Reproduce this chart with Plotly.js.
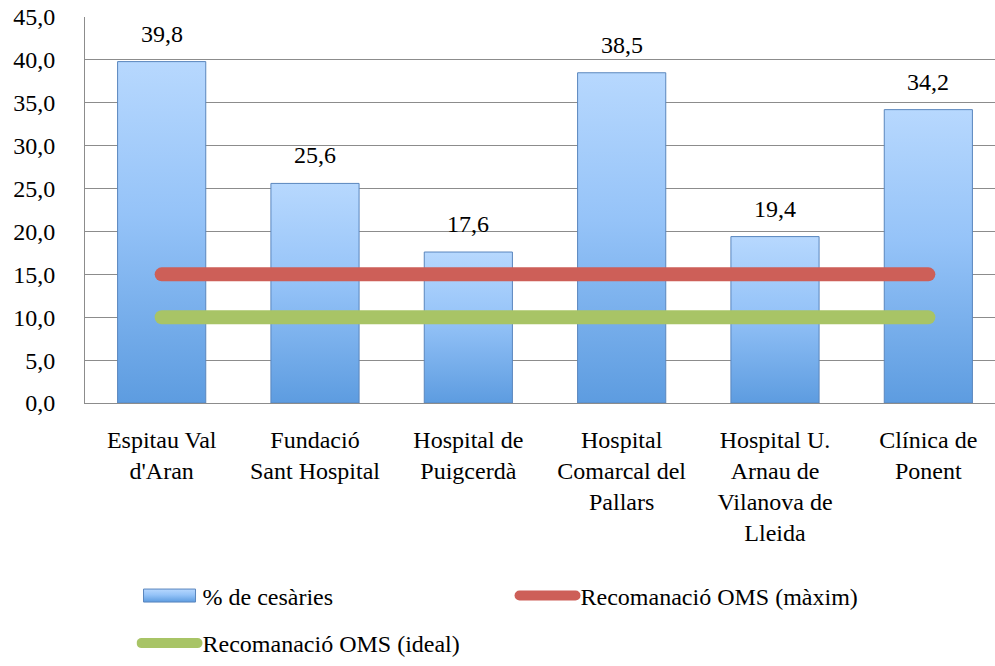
<!DOCTYPE html>
<html>
<head>
<meta charset="utf-8">
<script src="https://cdn.plot.ly/plotly-3.0.1.min.js"></script>
<style>
html, body { margin: 0; padding: 0; overflow: hidden; background: #fff; }
#chart { width: 1005px; height: 666px; }
path.js-line { stroke-linecap: round !important; }
.legendlines path { stroke-linecap: round !important; }
</style>
</head>
<body>
<div id="chart"></div>
<script>
const categories = [
  "Espitau Val<br>d'Aran",
  "Fundació<br>Sant Hospital",
  "Hospital de<br>Puigcerdà",
  "Hospital<br>Comarcal del<br>Pallars",
  "Hospital U.<br>Arnau de<br>Vilanova de<br>Lleida",
  "Clínica de<br>Ponent"
];
const cesareanPct = [39.8, 25.6, 17.6, 38.5, 19.4, 34.2];
const omsMax = [15, 15, 15, 15, 15, 15];
const omsIdeal = [10, 10, 10, 10, 10, 10];
const yTicks = [0, 5, 10, 15, 20, 25, 30, 35, 40, 45];

const FONT = "Liberation Serif";
const FS = 24;

const traces = [
  {
    type: 'bar', name: '% de cesàries', x: categories, y: cesareanPct,
    marker: { color: '#8fbff4', line: { color: '#5a86bd', width: 1 } },
    legend: 'legend', hoverinfo: 'skip'
  },
  {
    type: 'scatter', mode: 'lines', name: 'Recomanació OMS (màxim)', x: categories, y: omsMax,
    line: { color: '#cd5f58', width: 14 }, legend: 'legend', hoverinfo: 'skip'
  },
  {
    type: 'scatter', mode: 'lines', name: 'Recomanació OMS (ideal)', x: categories, y: omsIdeal,
    line: { color: '#a8c466', width: 14 }, legend: 'legend2', hoverinfo: 'skip'
  }
];

const annotations = cesareanPct.map((v, i) => ({
  x: categories[i], y: v, xref: 'x', yref: 'y',
  text: v.toFixed(1).replace('.', ','), showarrow: false,
  yanchor: 'bottom', yshift: 13,
  font: { family: FONT, size: FS, color: '#000' }
}));

const layout = {
  width: 1005, height: 666,
  margin: { l: 85, r: 0, t: 17, b: 262 },
  paper_bgcolor: '#fff', plot_bgcolor: '#fff',
  separators: ',.',
  font: { family: FONT, size: FS, color: '#000' },
  bargap: 0.425,
  showlegend: true,
  xaxis: {
    showgrid: false, showline: true, linecolor: '#8c8c8c', linewidth: 1,
    ticks: '', ticklabelstandoff: 15, tickangle: 0,
    tickfont: { family: FONT, size: FS, color: '#000' }, fixedrange: true
  },
  yaxis: {
    range: [0, 45], tickvals: yTicks, tickformat: '.1f',
    showgrid: true, gridcolor: '#8c8c8c', gridwidth: 1,
    showline: true, linecolor: '#8c8c8c', linewidth: 1, zeroline: false,
    ticks: '', ticklabelstandoff: 24,
    tickfont: { family: FONT, size: FS, color: '#000' }, fixedrange: true
  },
  legend: {
    orientation: 'h', x: 0.056, xanchor: 'left', y: -0.496, yanchor: 'middle',
    entrywidth: 307, entrywidthmode: 'pixels', itemwidth: 56,
    font: { family: FONT, size: FS, color: '#000' }, bgcolor: 'rgba(0,0,0,0)'
  },
  legend2: {
    orientation: 'h', x: 0.056, xanchor: 'left', y: -0.622, yanchor: 'middle',
    itemwidth: 56,
    font: { family: FONT, size: FS, color: '#000' }, bgcolor: 'rgba(0,0,0,0)'
  },
  annotations: annotations
};

Plotly.newPlot('chart', traces, layout, { staticPlot: true, displayModeBar: false }).then(function (gd) {
  const svgNS = 'http://www.w3.org/2000/svg';
  const svg = gd.querySelector('svg.main-svg');
  let defs = svg.querySelector('defs');
  if (!defs) { defs = document.createElementNS(svgNS, 'defs'); svg.insertBefore(defs, svg.firstChild); }
  function addGrad(id, stops, horiz) {
    const g = document.createElementNS(svgNS, 'linearGradient');
    g.setAttribute('id', id);
    g.setAttribute('x1', '0'); g.setAttribute('y1', '0');
    g.setAttribute('x2', horiz ? '1' : '0'); g.setAttribute('y2', horiz ? '0' : '1');
    stops.forEach(s => {
      const st = document.createElementNS(svgNS, 'stop');
      st.setAttribute('offset', s[0]); st.setAttribute('stop-color', s[1]);
      g.appendChild(st);
    });
    defs.appendChild(g);
  }
  addGrad('barGrad', [[0, '#b7d8fe'], [0.45, '#95c3f8'], [1, '#5d9ce0']], false);
  gd.querySelectorAll('.barlayer .point path').forEach(p => {
    p.style.fill = 'url(#barGrad)';
  });
  const legTraces = gd.querySelectorAll('.legend .traces');
  if (legTraces.length) {
    const lp = legTraces[0].querySelector('.legendpoints path');
    if (lp) {
      lp.setAttribute('d', 'M-26,6.5H26V-6.5H-26Z');
      lp.style.fill = 'url(#barGrad)';
    }
  }
});
</script>
</body>
</html>
